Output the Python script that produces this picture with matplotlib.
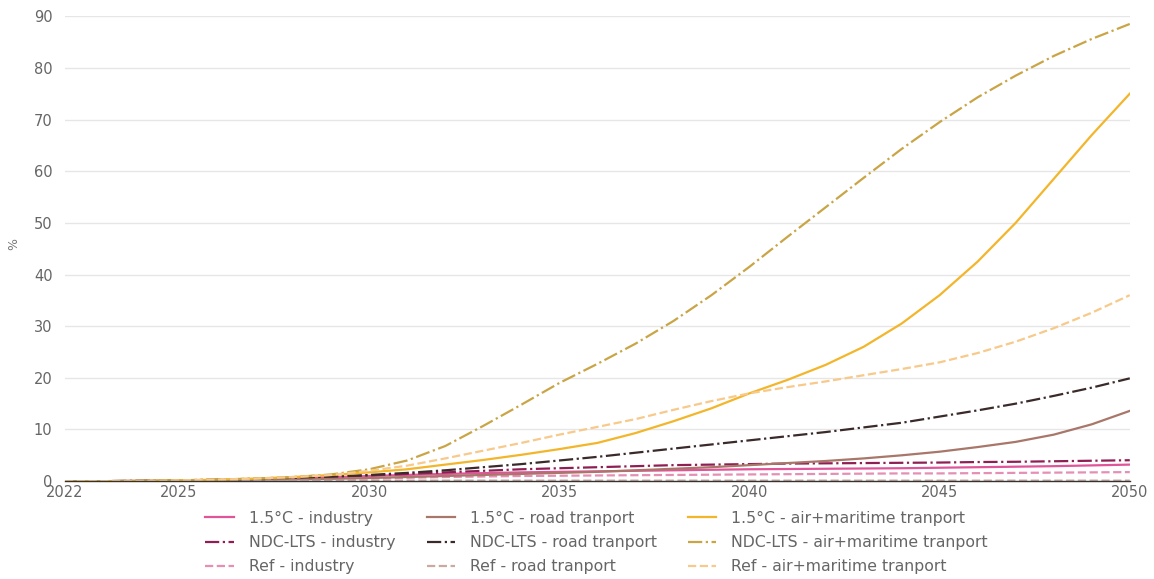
import matplotlib.pyplot as plt
import numpy as np

plt.rcParams['font.family'] = ['DejaVu Sans']

years = list(range(2022, 2051))

# 1.5°C scenario
ind_15 = [0, 0, 0.05, 0.1, 0.2, 0.35, 0.55, 0.75, 1.0, 1.2, 1.4, 1.55, 1.7, 1.8, 1.9, 2.0, 2.1, 2.2, 2.3,
          2.35, 2.4, 2.45, 2.5, 2.6, 2.7, 2.8, 2.9, 3.05, 3.2]
road_15 = [0, 0, 0.05, 0.1, 0.15, 0.25, 0.35, 0.45, 0.6, 0.8, 1.0, 1.2, 1.4, 1.6, 1.8, 2.1, 2.4, 2.7, 3.1,
           3.5, 3.9, 4.4, 5.0, 5.7, 6.6, 7.6, 9.0, 11.0, 13.6]
air_15 = [0, 0, 0.05, 0.15, 0.3, 0.5, 0.8, 1.2, 1.7, 2.3, 3.2, 4.1, 5.1, 6.2, 7.4, 9.3, 11.6, 14.1, 17.0,
          19.6, 22.5, 26.0, 30.5, 36.0, 42.5, 50.0, 58.5, 67.0, 75.0]

# NDC-LTS scenario
ind_ndc = [0, 0, 0.05, 0.1, 0.2, 0.35, 0.55, 0.8, 1.1, 1.4, 1.7, 2.0, 2.3, 2.5, 2.7, 2.9, 3.1, 3.2, 3.3,
           3.4, 3.45, 3.5, 3.55, 3.6, 3.7, 3.75, 3.85, 3.95, 4.05]
road_ndc = [0, 0, 0.05, 0.15, 0.3, 0.45, 0.65, 0.9, 1.2, 1.6, 2.1, 2.7, 3.3, 4.0, 4.7, 5.5, 6.3, 7.1, 7.9,
            8.7, 9.5, 10.4, 11.3, 12.5, 13.7, 15.0, 16.5, 18.1, 19.9]
air_ndc = [0, 0, 0.05, 0.15, 0.3, 0.5, 0.8, 1.3, 2.3, 4.0, 6.8, 10.7, 14.8, 19.0, 22.7, 26.6, 31.0, 36.0, 41.5,
           47.3, 53.0, 58.7, 64.3, 69.5, 74.3, 78.5, 82.3, 85.6, 88.5]

# Ref scenario
ind_ref = [0, 0, 0.02, 0.05, 0.1, 0.15, 0.25, 0.35, 0.5, 0.65, 0.8, 0.9, 1.0, 1.05, 1.1, 1.15, 1.2, 1.25, 1.3,
           1.35, 1.4, 1.45, 1.5, 1.5, 1.55, 1.6, 1.65, 1.7, 1.75]
road_ref = [0, 0, 0, 0.02, 0.03, 0.05, 0.06, 0.08, 0.1, 0.1, 0.1, 0.1, 0.1, 0.1, 0.1, 0.1, 0.1, 0.1, 0.1,
            0.1, 0.1, 0.1, 0.1, 0.1, 0.1, 0.1, 0.1, 0.1, 0.1]
air_ref = [0, 0, 0.05, 0.15, 0.3, 0.5, 0.8, 1.2, 2.0, 3.0, 4.4, 5.9, 7.4, 9.0, 10.5, 12.0, 13.8, 15.5, 17.0,
           18.2, 19.3, 20.5, 21.7, 23.0, 24.8, 27.0, 29.6, 32.6, 36.0]

series = [
    ('1.5°C - industry', ind_15, '#e0559a', '-'),
    ('NDC-LTS - industry', ind_ndc, '#8e1f54', '-.'),
    ('Ref - industry', ind_ref, '#e58fb5', '--'),
    ('1.5°C - road tranport', road_15, '#a8776a', '-'),
    ('NDC-LTS - road tranport', road_ndc, '#3a2a2a', '-.'),
    ('Ref - road tranport', road_ref, '#c9a9a0', '--'),
    ('1.5°C - air+maritime tranport', air_15, '#f3b52a', '-'),
    ('NDC-LTS - air+maritime tranport', air_ndc, '#c9a545', '-.'),
    ('Ref - air+maritime tranport', air_ref, '#f7c98a', '--'),
]

fig = plt.figure(figsize=(11.54, 5.79), dpi=100)
ax = fig.add_axes([0.0563, 0.169, 0.9227, 0.803])

handles = []
for label, vals, col, ls in series:
    h, = ax.plot(years, vals, color=col, linestyle=ls, linewidth=1.6, label=label)
    handles.append(h)

ax.set_xlim(2022, 2050)
ax.set_ylim(0, 90)
ax.set_xticks([2022, 2025, 2030, 2035, 2040, 2045, 2050])
ax.set_yticks(range(0, 91, 10))
ax.grid(axis='y', color='#e6e6e6', linewidth=1)
ax.set_axisbelow(True)
for s in ['top', 'right', 'left']:
    ax.spines[s].set_visible(False)
ax.spines['bottom'].set_color('#333333')
ax.spines['bottom'].set_linewidth(1)
ax.tick_params(axis='both', length=0, labelsize=10.5, labelcolor='#666666', pad=9)
ax.tick_params(axis='x', pad=3)
ax.set_ylabel('%', fontsize=9, color='#777777')
ax.yaxis.set_label_coords(-0.042, 0.51)

fig.legend(handles=handles, loc='upper center', bbox_to_anchor=(0.517, 0.142), ncol=3,
           frameon=False, fontsize=11.3, labelcolor='#666666', handlelength=1.8,
           handletextpad=0.95, columnspacing=2.0, labelspacing=0.58)

fig.savefig('out.png', dpi=100)
